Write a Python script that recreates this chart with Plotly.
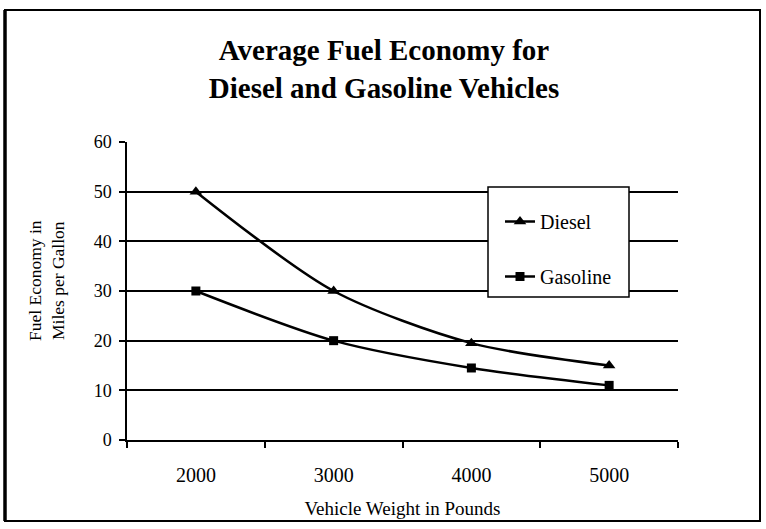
import plotly.graph_objects as go

# Vehicle weight classes (pounds) and average fuel economy (mpg)
weights = ["2000", "3000", "4000", "5000"]
diesel_mpg = [50, 30, 19.5, 15]
gasoline_mpg = [30, 20, 14.5, 11]
y_ticks = [0, 10, 20, 30, 40, 50, 60]

W, H = 766, 529
L, R, T, B = 127, 88, 142, 89
plot_w = W - L - R
plot_h = H - T - B


def px_x(px):
    return (px - L) / plot_w


def px_y(py):
    return (H - B - py) / plot_h


SERIF = "Liberation Serif, Times New Roman, serif"

fig = go.Figure()
fig.add_trace(go.Scatter(
    x=weights, y=diesel_mpg, name="Diesel", legendgroup="d",
    mode="lines+markers",
    line=dict(color="black", width=2.5, shape="spline", smoothing=0.8),
    marker=dict(symbol="triangle-up", size=11, color="black"),
))
fig.add_trace(go.Scatter(
    x=weights, y=gasoline_mpg, name="Gasoline", legendgroup="g",
    mode="lines+markers",
    line=dict(color="black", width=2.5, shape="spline", smoothing=0.8),
    marker=dict(symbol="square", size=9, color="black"),
))

# Outer frame (heavier left edge) and legend box
fig.add_shape(type="rect", xref="paper", yref="paper",
              x0=px_x(5), x1=px_x(760), y0=px_y(521), y1=px_y(10),
              line=dict(color="black", width=2), layer="below")
fig.add_shape(type="line", xref="paper", yref="paper",
              x0=px_x(5), x1=px_x(5), y0=px_y(521), y1=px_y(10),
              line=dict(color="black", width=3.5), layer="below")
fig.add_shape(type="rect", xref="paper", yref="paper",
              x0=px_x(488), x1=px_x(629), y0=px_y(297), y1=px_y(187),
              line=dict(color="black", width=1.5), fillcolor="white", layer="above")

# Two-line y-axis title
fig.add_annotation(
    text="Fuel Economy in<br>Miles per Gallon",
    xref="paper", yref="paper", x=px_x(46), y=px_y(281),
    xanchor="center", yanchor="middle", textangle=-90, showarrow=False,
    font=dict(family=SERIF, size=17.5, color="black"),
)

fig.update_layout(
    width=W, height=H,
    margin=dict(l=L, r=R, t=T, b=B),
    paper_bgcolor="white", plot_bgcolor="white",
    font=dict(family=SERIF, color="black", size=18),
    title=dict(
        text="<b>Average Fuel Economy for<br>Diesel and Gasoline Vehicles</b>",
        x=384 / W, xref="container", xanchor="center",
        y=1 - 60 / H, yref="container", yanchor="top",
        font=dict(family=SERIF, size=29, color="black"),
    ),
    showlegend=True,
    legend=dict(
        x=px_x(500), y=px_y(202), xanchor="left", yanchor="top",
        bgcolor="rgba(0,0,0,0)", borderwidth=0,
        font=dict(family=SERIF, size=20, color="black"),
        tracegroupgap=26, itemwidth=30,
    ),
    xaxis=dict(
        type="category", tickson="boundaries",
        range=[-0.5, 3.5],
        showgrid=False, showline=True, linecolor="black", linewidth=1.5,
        ticks="outside", ticklen=6, tickcolor="black", tickwidth=1.5,
        ticklabelstandoff=16,
        tickfont=dict(family=SERIF, size=20, color="black"),
        title=dict(text="Vehicle Weight in Pounds", standoff=17,
                   font=dict(family=SERIF, size=19, color="black")),
    ),
    yaxis=dict(
        range=[0, 60], tickvals=y_ticks,
        showgrid=True, gridcolor="black", gridwidth=1.5,
        showline=True, linecolor="black", linewidth=1.5,
        ticks="outside", ticklen=6, tickcolor="black", tickwidth=1.5,
        ticklabelstandoff=4,
        tickfont=dict(family=SERIF, size=18, color="black"),
        zeroline=False,
    ),
)

fig.write_html("out.html")
